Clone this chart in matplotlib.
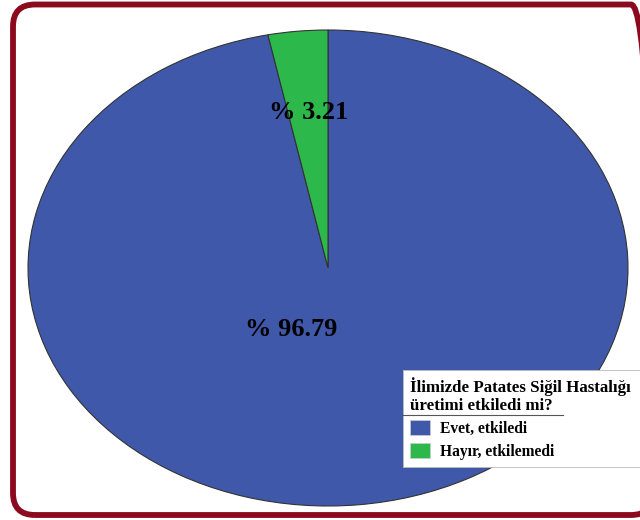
import matplotlib.pyplot as plt
from matplotlib.patches import FancyBboxPatch, Patch
from matplotlib.lines import Line2D

labels = ["Evet, etkiledi", "Hayır, etkilemedi"]
values = [96.79, 3.21]
colors = ["#3F58AA", "#2DB84B"]
legend_title = "İlimizde Patates Siğil Hastalığı\nüretimi etkiledi mi?"

plt.rcParams["font.family"] = ["Liberation Serif", "DejaVu Serif"]

fig = plt.figure(figsize=(6.4, 5.2), dpi=100)

# rounded dark red frame (pixel coords via inches); right side runs off the canvas
frame = FancyBboxPatch((0.13, 0.05), 6.40, 5.105,
                       boxstyle="round,pad=0,rounding_size=0.22",
                       transform=fig.dpi_scale_trans, fill=False,
                       edgecolor="#8C0A1E", linewidth=4.2, zorder=0)
fig.patches.append(frame)

ax = fig.add_axes([28 / 640, 14 / 520, 600 / 640, 476 / 520])
wedges, _ = ax.pie(values, colors=colors, startangle=90, counterclock=False,
                   wedgeprops=dict(edgecolor="#333333", linewidth=0.8))
ax.set_xlim(-1, 1)
ax.set_ylim(-1, 1)
ax.set_aspect("auto")
ax.axis("off")

# percentage labels
label_pos = [(-0.123, -0.26), (-0.066, 0.655)]
for v, (x, y) in zip(values, label_pos):
    ax.text(x, y, f"% {v:.2f}", ha="center", va="center",
            fontsize=19, fontweight="bold", color="black")

handles = [Patch(facecolor=c, edgecolor="#cccccc", linewidth=0.5) for c in colors]
leg = fig.legend(handles, labels, title=legend_title,
                 loc="upper left",
                 bbox_to_anchor=(403 / 640, 1 - 370 / 520, 260 / 640, 0),
                 mode="expand",
                 frameon=True, fancybox=False, framealpha=1,
                 facecolor="white", edgecolor="#bbbbbb",
                 prop=dict(weight="bold", size=11.2),
                 title_fontproperties=dict(weight="bold", size=12.2),
                 alignment="left", handlelength=1.3, handleheight=1.1,
                 handletextpad=0.6, labelspacing=0.4, borderpad=0.45,
                 borderaxespad=0)
leg.get_frame().set_linewidth(0.6)

# rule under the legend title
fig.add_artist(Line2D([403 / 640, 563 / 640], [1 - 415 / 520, 1 - 415 / 520],
                      color="#555555", linewidth=0.8, zorder=10))

fig.savefig("out.png", dpi=100)
